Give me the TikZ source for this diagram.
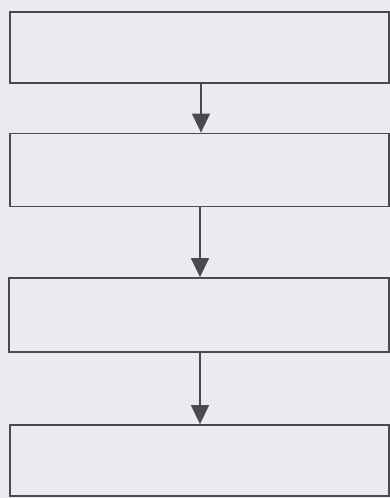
\documentclass[tikz,border=0pt]{standalone}
\usetikzlibrary{arrows.meta}
\definecolor{paper}{HTML}{ECEAF0}
\definecolor{ink}{HTML}{4A4A4E}
\begin{document}
\begin{tikzpicture}[x=1pt,y=-1pt,
  stagebox/.style={draw=ink,line width=1.8pt,fill=none},
  flow/.style={draw=ink,line width=1.4pt,-{Triangle[length=19pt,width=18pt]}}]
\fill[paper] (0,0) rectangle (390,498);
\useasboundingbox (0,0) rectangle (390,498);
\node[stagebox,minimum width=379pt,minimum height=71pt,inner sep=0pt] (b1) at (199.5,47.5) {};
\node[stagebox,minimum width=379pt,minimum height=73pt,inner sep=0pt] (b2) at (199.5,170) {};
\node[stagebox,minimum width=380pt,minimum height=74pt,inner sep=0pt] (b3) at (199,315) {};
\node[stagebox,minimum width=379pt,minimum height=71pt,inner sep=0pt] (b4) at (199.5,460.5) {};
\draw[flow] (b1.south -| 201,0) -- (b2.north -| 201,0);
\draw[flow] (b2.south -| 200,0) -- (b3.north -| 200,0);
\draw[flow] (b3.south -| 200,0) -- (b4.north -| 200,0);
\end{tikzpicture}
\end{document}
